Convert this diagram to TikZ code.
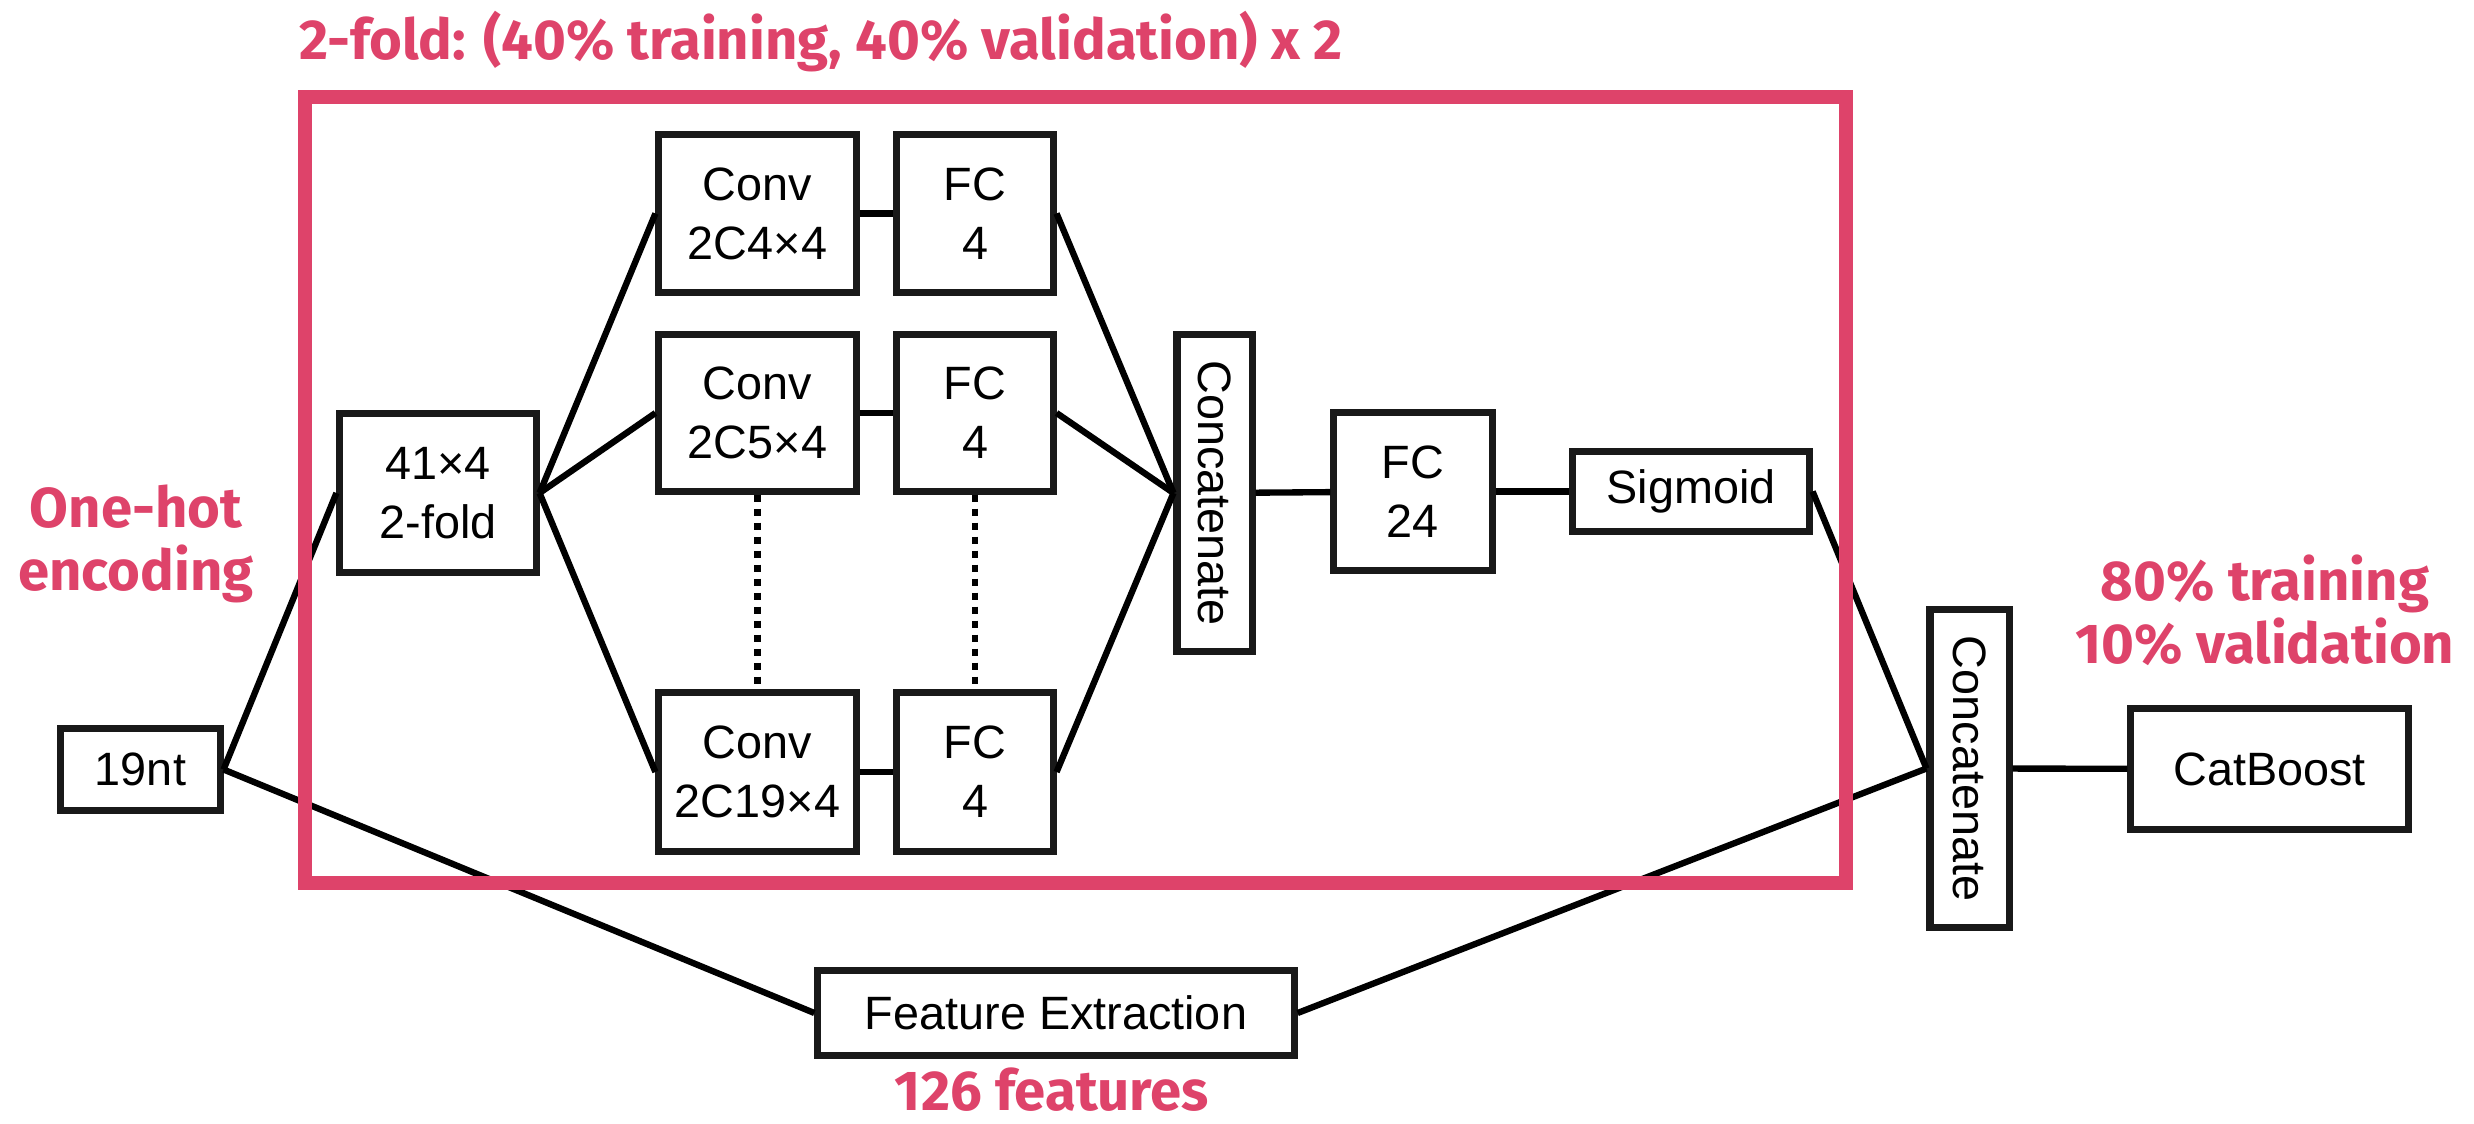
\documentclass[tikz,border=0pt]{standalone}
\usepackage{fontspec}
\usepackage{graphicx}
\newfontfamily\arialf{Liberation Sans}
\newfontfamily\firaf{Fira Sans}
\definecolor{myred}{RGB}{222,67,106}
\definecolor{boxline}{RGB}{25,25,25}
\begin{document}
\begin{tikzpicture}[x=0.01cm,y=-0.01cm,
  blk/.style={draw=boxline, line width=2pt, fill=white, inner sep=0pt, align=center,
    font=\arialf\fontsize{13.3}{16.8}\selectfont},
  con/.style={line width=1.8pt, black},
  dotcon/.style={line width=1.8pt, black, dash pattern=on 0.07cm off 0.07cm},
  redlbl/.style={text=myred, inner sep=0pt, font=\firaf\bfseries\fontsize{16}{18}\selectfont},
  frame/.style={draw=myred, line width=4pt, inner sep=0pt}]
\useasboundingbox (0,0) rectangle (2474,1124);

% nodes
\node[blk, minimum width=1.59cm, minimum height=0.81cm] (n19) at (140.5,769.5) {19nt};
\node[blk, minimum width=1.96cm, minimum height=1.58cm] (n41) at (438,493) {41×4\\2-fold};
\node[blk, minimum width=1.97cm, minimum height=1.57cm] (conv1) at (757.5,213.5) {Conv\\2C4×4};
\node[blk, minimum width=1.56cm, minimum height=1.57cm] (fc1) at (975,213.5) {FC\\4};
\node[blk, minimum width=1.97cm, minimum height=1.56cm] (conv2) at (757.5,413) {Conv\\2C5×4};
\node[blk, minimum width=1.56cm, minimum height=1.56cm] (fc2) at (975,413) {FC\\4};
\node[blk, minimum width=1.97cm, minimum height=1.58cm] (conv3) at (757.5,772) {Conv\\2C19×4};
\node[blk, minimum width=1.56cm, minimum height=1.58cm] (fc3) at (975,772) {FC\\4};
\node[blk, minimum width=0.75cm, minimum height=3.16cm] (cc) at (1214.5,493) {\rotatebox{-90}{Concatenate}};
\node[blk, minimum width=1.58cm, minimum height=1.57cm] (fc24) at (1413,491.5) {FC\\24};
\node[blk, minimum width=2.36cm, minimum height=0.79cm] (sig) at (1691,491.5) {Sigmoid};
\node[blk, minimum width=0.79cm, minimum height=3.17cm] (cc2) at (1969.5,768.5) {\rotatebox{-90}{Concatenate}};
\node[blk, minimum width=2.77cm, minimum height=1.20cm] (cat) at (2269.5,769) {CatBoost};
\node[blk, minimum width=4.76cm, minimum height=0.84cm] (fe) at (1056,1013) {Feature Extraction};

% connectors
\draw[con] (n19.east) -- (n41.west);
\draw[con] (n19.east) -- (fe.west);
\draw[con] (n41.east) -- (conv1.west);
\draw[con] (n41.east) -- (conv2.west);
\draw[con] (n41.east) -- (conv3.west);
\draw[con] (conv1) -- (fc1);
\draw[con] (conv2) -- (fc2);
\draw[con] (conv3) -- (fc3);
\draw[dotcon] (conv2) -- (conv3);
\draw[dotcon] (fc2) -- (fc3);
\draw[con] (fc1.east) -- (cc.west);
\draw[con] (fc2.east) -- (cc.west);
\draw[con] (fc3.east) -- (cc.west);
\draw[con] (cc) -- (fc24);
\draw[con] (fc24) -- (sig);
\draw[con] (sig.east) -- (cc2.west);
\draw[con] (fe.east) -- (cc2.west);
\draw[con] (cc2) -- (cat);

% red annotations
\node[frame, minimum width=15.41cm, minimum height=7.86cm] (fold) at (1075.5,490) {};
\node[redlbl, anchor=base west] (title) at (299,60) {2-fold: (40\% training, 40\% validation) x 2};
\node[redlbl, anchor=base] (oh1) at (136,527) {One-hot};
\node[redlbl, anchor=base] (oh2) at (136,590) {encoding};
\node[redlbl, anchor=base] (tr1) at (2265,600) {80\% training};
\node[redlbl, anchor=base] (tr2) at (2265,663) {10\% validation};
\node[redlbl, anchor=base] (feat) at (1052,1110) {126 features};
\end{tikzpicture}
\end{document}
